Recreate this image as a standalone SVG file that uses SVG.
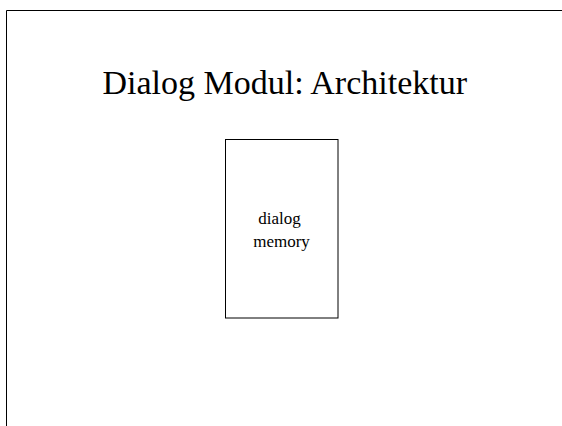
<svg xmlns="http://www.w3.org/2000/svg" width="562" height="426" viewBox="0 0 562 426">
  <style>
    .frame { fill: none; stroke: #000; stroke-width: 1; }
    .node-box { fill: #fff; stroke: #000; stroke-width: 1; }
    .title { font-family: "Liberation Serif", "Times New Roman", serif; font-size: 34px; fill: #000; }
    .label { font-family: "Liberation Serif", "Times New Roman", serif; font-size: 17px; fill: #000; }
  </style>
  <rect width="562" height="426" fill="#fff"/>
  <!-- slide frame: top and left edges -->
  <path class="frame" d="M6.5,426 V10.5 H562"/>
  <text class="title" x="102.5" y="94">Dialog Modul: Architektur</text>
  <g id="dialog-memory">
    <rect class="node-box" x="225.5" y="139.5" width="112.5" height="178.5"/>
    <text class="label" x="279.5" y="224" text-anchor="middle">dialog</text>
    <text class="label" x="281.5" y="247" text-anchor="middle">memory</text>
  </g>
  <g id="connectors"></g>
</svg>
